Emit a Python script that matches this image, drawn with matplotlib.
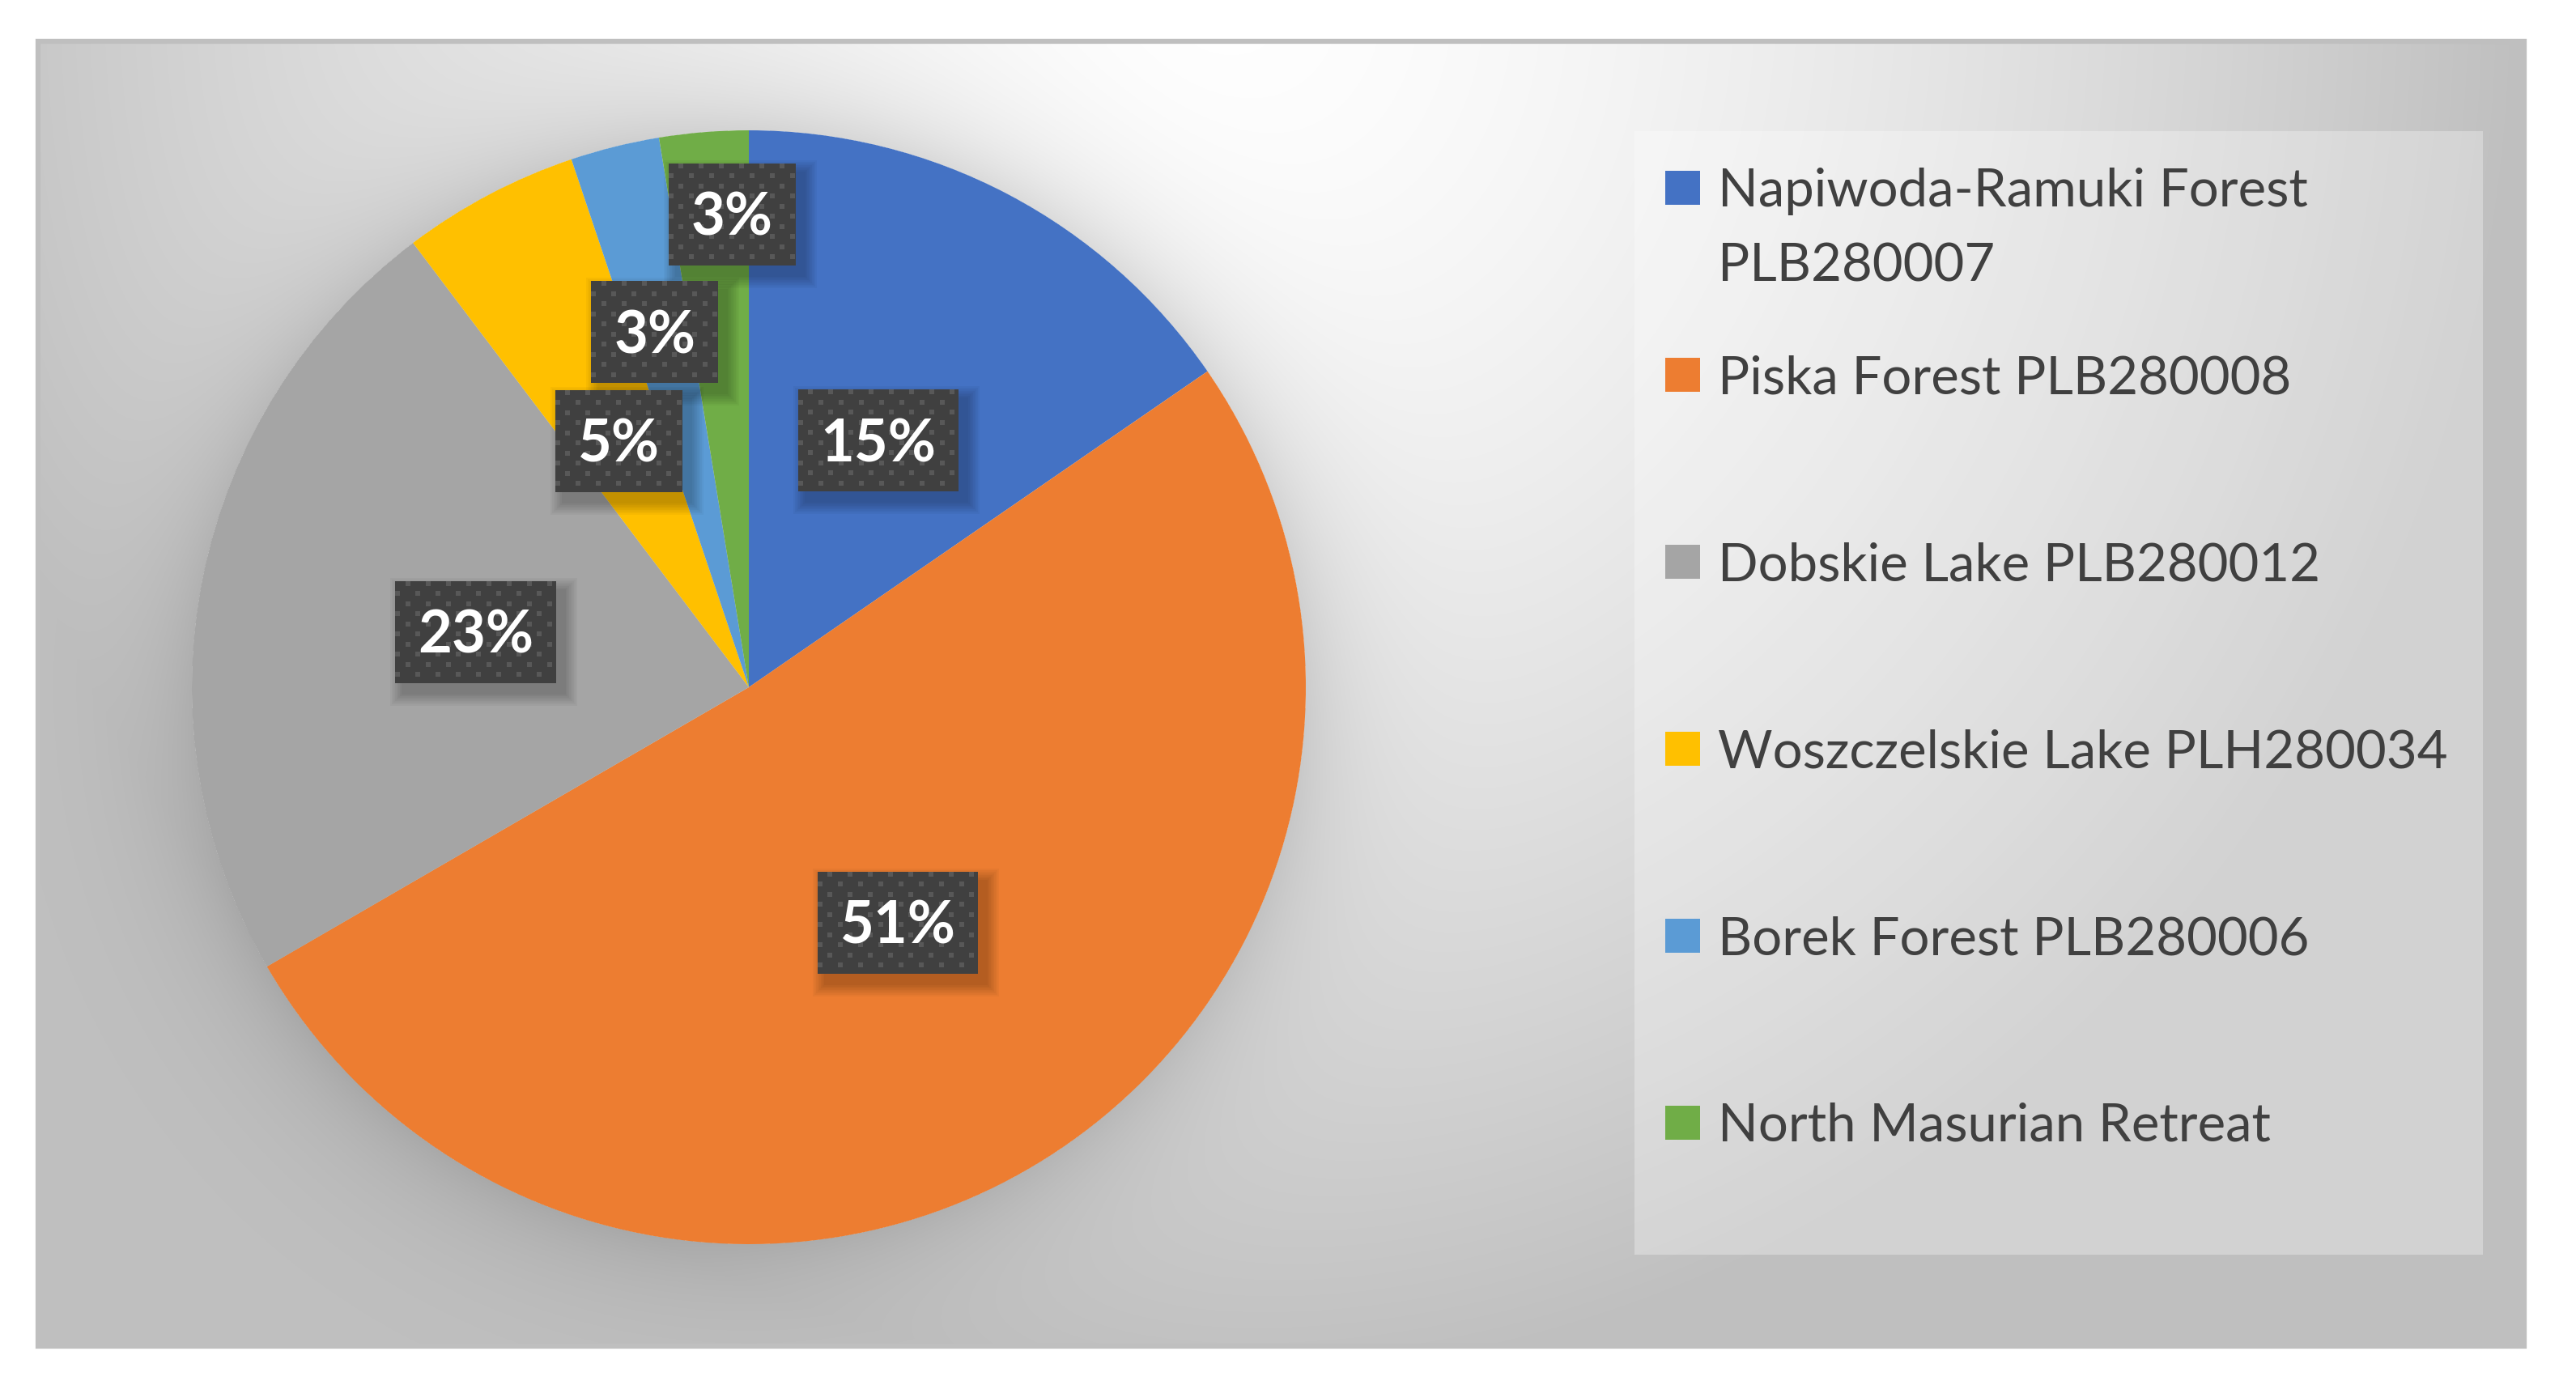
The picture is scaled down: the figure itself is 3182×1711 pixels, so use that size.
import textwrap

import numpy as np
import matplotlib
matplotlib.use("Agg")
import matplotlib.pyplot as plt
from matplotlib.patches import Rectangle

W, H = 3182, 1711

# data
names = ["Napiwoda-Ramuki Forest PLB280007", "Piska Forest PLB280008",
         "Dobskie Lake PLB280012", "Woszczelskie Lake PLH280034",
         "Borek Forest PLB280006", "North Masurian Retreat"]
shares = [15.40, 51.24, 23.06, 5.14, 2.58, 2.58]
colors = ["#4472C4", "#ED7D31", "#A5A5A5", "#FFC000", "#5B9BD5", "#70AD47"]

# layout
CX, CY, R = 925, 849, 688          # pie centre / radius in pixels
FRAME = (44, 48, 3121, 1666)        # chart area x0, y0, x1, y1
LEG = (2019, 162, 3067, 1550)       # legend box
lab_r = [0.5, 0.5, 0.5, 0.5, 0.66, 0.85]
lab_nudge = [0, 0, 0, 0, 0.9, -2.6]  # degrees, matplotlib sense
TXT = "#404040"

fig = plt.figure(figsize=(W / 100, H / 100), dpi=100)

# background: radial grey gradient + soft halo around the pie
bg = fig.add_axes([0, 0, 1, 1], zorder=0)
bg.set_xlim(0, W); bg.set_ylim(H, 0); bg.axis("off")
yy, xx = np.mgrid[0:H, 0:W] + 0.5
rho = np.hypot((xx - 1500) / 1600, yy / 1700)
v = 255 - 63 * np.clip(rho, 0, 1) ** 1.5
d = np.hypot(xx - CX, yy - CY) - R
v = np.where(d > 0, v * (1 - 0.12 * np.exp(-np.clip(d, 0, None) / 70)), v)
x0, y0, x1, y1 = FRAME
inside = (xx >= x0) & (xx <= x1) & (yy >= y0) & (yy <= y1)
v = np.where(inside, v, 255) / 255
bg.imshow(np.dstack([v, v, v]), extent=(0, W, H, 0), interpolation="bilinear", aspect="auto")
bg.add_patch(Rectangle((x0 + 3, y0 + 3), x1 - x0 - 6, y1 - y0 - 6, fill=False,
                       ec="#bfbfbf", lw=4.5))
bg.add_patch(Rectangle((LEG[0], LEG[1]), LEG[2] - LEG[0], LEG[3] - LEG[1],
                       fc="white", alpha=0.3, ec="none"))

# pie
ax = fig.add_axes([(CX - R) / W, (H - CY - R) / H, 2 * R / W, 2 * R / H], zorder=1)
wedges, _ = ax.pie(shares, colors=colors, startangle=90, counterclock=False,
                   radius=1, wedgeprops=dict(linewidth=0))
ax.set_xlim(-1, 1); ax.set_ylim(-1, 1)
ax.apply_aspect()

# foreground: data labels and legend
fg = fig.add_axes([0, 0, 1, 1], zorder=2)
fg.set_xlim(0, W); fg.set_ylim(H, 0); fg.axis("off")
fg.patch.set_alpha(0)
renderer = fig.canvas.get_renderer()

for w, s, r, nd in zip(wedges, shares, lab_r, lab_nudge):
    a = np.deg2rad((w.theta1 + w.theta2) / 2 + nd)
    px, py = ax.transData.transform((r * np.cos(a), r * np.sin(a)))
    py = H - py
    t = fg.text(px, py + 26, f"{round(s):.0f}%", color="white", fontsize=52,
                fontweight="bold", family="Lato", ha="center", va="baseline", zorder=5)
    tw = t.get_window_extent(renderer).width
    bw, bh = tw + 56, 126
    bx, by = px - bw / 2, py - bh / 2
    for k in range(1, 9):
        fg.add_patch(Rectangle((bx + 10 - 2 * k, by + 12 - 2 * k), bw + 4 * k, bh + 4 * k,
                               fc="black", alpha=0.03, ec="none", zorder=2))
    box = Rectangle((bx, by), bw, bh, fc="#404040", ec="none", zorder=3)
    fg.add_patch(box)
    dx, dy = [], []
    for j, yrow in enumerate(np.arange(by + 3, by + bh, 12.5)):
        xs = np.arange(bx + 3 + (12.5 if j % 2 == 0 else 0), bx + bw, 25)
        dx += list(xs); dy += [yrow] * len(xs)
    dots = fg.scatter(dx, dy, marker="s", s=13, color="#585858", linewidths=0, zorder=4)
    dots.set_clip_path(box)

# legend
for i, (name, c) in enumerate(zip(names, colors)):
    yc = 232 + i * 231
    fg.add_patch(Rectangle((2057, yc - 21), 43, 42, fc=c, ec="none"))
    for k, line in enumerate(textwrap.wrap(name, 30)):
        fg.text(2122, yc + 23 + k * 92, line, color=TXT, fontsize=47, family="Lato",
                ha="left", va="baseline")

fig.savefig("out.png", dpi=100)
